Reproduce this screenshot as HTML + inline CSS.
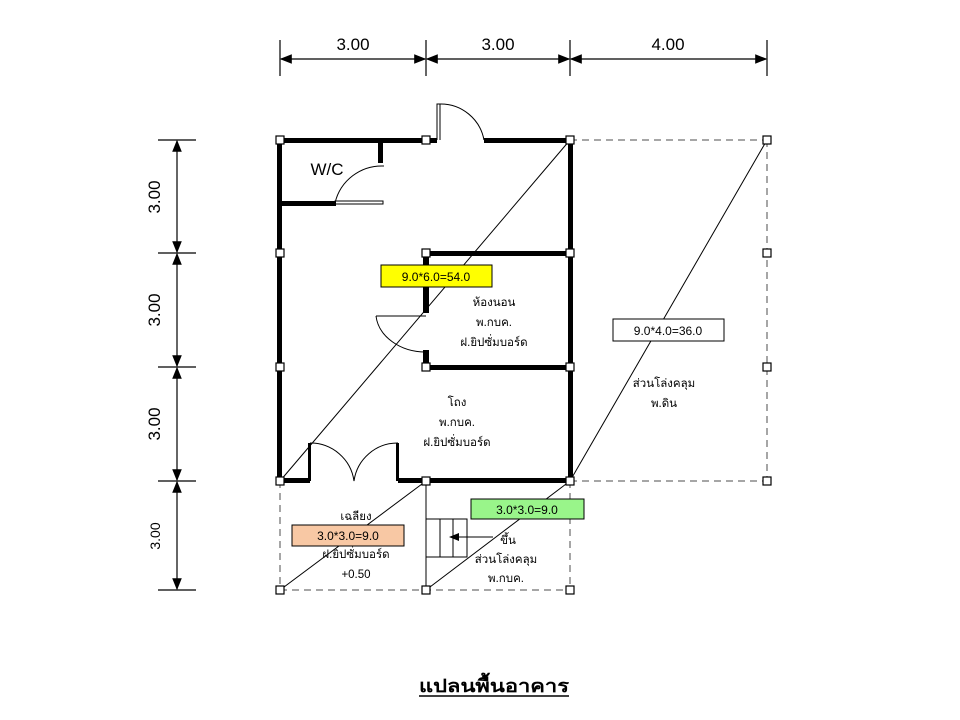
<!DOCTYPE html><html><head><meta charset="utf-8"><style>body{margin:0;background:#fff}svg{display:block}text{font-family:"Liberation Sans","Noto Sans CJK SC",sans-serif}</style></head><body>
<svg width="960" height="720" viewBox="0 0 960 720" xmlns="http://www.w3.org/2000/svg">
<defs><marker id="a" markerWidth="10" markerHeight="8" refX="9" refY="4" orient="auto-start-reverse"><path d="M0,0L10,4L0,8z" fill="#000"/></marker></defs>
<g stroke="#000" stroke-width="1.2">
<line x1="280" y1="40" x2="280" y2="76"/><line x1="426" y1="40" x2="426" y2="76"/><line x1="570" y1="40" x2="570" y2="76"/><line x1="767" y1="40" x2="767" y2="76"/>
<line x1="281" y1="59" x2="425" y2="59" marker-start="url(#a)" marker-end="url(#a)"/>
<line x1="427" y1="59" x2="569" y2="59" marker-start="url(#a)" marker-end="url(#a)"/>
<line x1="571" y1="59" x2="766" y2="59" marker-start="url(#a)" marker-end="url(#a)"/>
<line x1="158" y1="140" x2="196" y2="140"/><line x1="158" y1="253" x2="196" y2="253"/><line x1="158" y1="367" x2="196" y2="367"/><line x1="158" y1="481" x2="196" y2="481"/><line x1="158" y1="590" x2="196" y2="590"/>
<line x1="177" y1="141" x2="177" y2="252" marker-start="url(#a)" marker-end="url(#a)"/>
<line x1="177" y1="254" x2="177" y2="366" marker-start="url(#a)" marker-end="url(#a)"/>
<line x1="177" y1="368" x2="177" y2="480" marker-start="url(#a)" marker-end="url(#a)"/>
<line x1="177" y1="482" x2="177" y2="589" marker-start="url(#a)" marker-end="url(#a)"/>
</g>
<g font-size="17" text-anchor="middle">
<text x="353" y="50">3.00</text><text x="498" y="50">3.00</text><text x="668" y="50">4.00</text>
<text transform="translate(160,197) rotate(-90)">3.00</text>
<text transform="translate(160,310) rotate(-90)">3.00</text>
<text transform="translate(160,424) rotate(-90)">3.00</text>
<text transform="translate(160,536) rotate(-90)" font-size="14">3.00</text>
</g>
<g stroke="#888" stroke-width="1.5" stroke-dasharray="7,5" fill="none">
<line x1="570" y1="140" x2="767" y2="140"/><line x1="570" y1="481" x2="767" y2="481"/><line x1="767" y1="140" x2="767" y2="481"/>
<line x1="280" y1="481" x2="280" y2="590"/><line x1="280" y1="590" x2="570" y2="590"/><line x1="570" y1="481" x2="570" y2="590"/>
</g>
<g stroke="#000" stroke-width="1" fill="none">
<line x1="280" y1="481" x2="570" y2="140"/><line x1="570" y1="481" x2="767" y2="140"/>
<line x1="280" y1="590" x2="426" y2="481"/><line x1="426" y1="590" x2="570" y2="481"/>
<line x1="426" y1="481" x2="426" y2="590"/>
<rect x="426" y="519" width="41" height="38"/><line x1="440" y1="519" x2="440" y2="557"/><line x1="453" y1="519" x2="453" y2="557"/>
<line x1="493" y1="537" x2="450" y2="537" marker-end="url(#a)"/>
<path d="M437 140 V104 H440 V140"/><path d="M440 104 A44 44 0 0 1 484 140"/>
<path d="M384 166 A48 48 0 0 0 335 203"/><rect x="335" y="201" width="48" height="3"/>
<path d="M376 316 H426"/><path d="M376 316 A50 40 0 0 0 426 352"/>
<path d="M310 443 A44 44 0 0 1 354 481 A44 44 0 0 1 398 443"/>
</g>
<g fill="#000">
<rect x="277" y="138" width="160" height="5"/><rect x="484" y="138" width="88" height="5"/>
<rect x="277" y="138" width="5" height="345"/><rect x="568" y="138" width="5" height="345"/>
<rect x="277" y="478" width="33" height="5"/><rect x="398" y="478" width="175" height="5"/>
<rect x="308" y="443" width="3" height="38"/><rect x="396" y="443" width="3" height="38"/>
<rect x="378" y="140" width="5" height="23"/><rect x="280" y="201" width="56" height="5"/>
<rect x="426" y="251" width="144" height="5"/><rect x="423" y="253" width="6" height="60"/><rect x="423" y="350" width="6" height="17"/><rect x="426" y="365" width="144" height="5"/>
</g>
<g fill="#fff" stroke="#000" stroke-width="1.2">
<rect x="276" y="136" width="8" height="8"/><rect x="422" y="136" width="8" height="8"/><rect x="566" y="136" width="8" height="8"/><rect x="763" y="136" width="8" height="8"/>
<rect x="276" y="249" width="8" height="8"/><rect x="422" y="249" width="8" height="8"/><rect x="566" y="249" width="8" height="8"/><rect x="763" y="249" width="8" height="8"/>
<rect x="276" y="363" width="8" height="8"/><rect x="422" y="363" width="8" height="8"/><rect x="566" y="363" width="8" height="8"/><rect x="763" y="363" width="8" height="8"/>
<rect x="276" y="477" width="8" height="8"/><rect x="422" y="477" width="8" height="8"/><rect x="566" y="477" width="8" height="8"/><rect x="763" y="477" width="8" height="8"/>
<rect x="276" y="586" width="8" height="8"/><rect x="422" y="586" width="8" height="8"/><rect x="566" y="586" width="8" height="8"/>
</g>
<g stroke="#000" stroke-width="1">
<rect x="381" y="265" width="111" height="22" fill="#ffff00"/>
<rect x="613" y="319" width="111" height="22" fill="#fff"/>
<rect x="471" y="499" width="113" height="20" fill="#99f58a"/>
<rect x="292" y="525" width="112" height="21" fill="#f8c8a4"/>
</g>
<g font-size="12" text-anchor="middle" fill="#000">
<text x="436" y="281">9.0*6.0=54.0</text><text x="668" y="335">9.0*4.0=36.0</text>
<text x="527" y="514">3.0*3.0=9.0</text><text x="348" y="540">3.0*3.0=9.0</text>
<text x="327" y="175" font-size="17">W/C</text>
<g font-size="11.5">
<text x="494" y="306">ห้องนอน</text><text x="494" y="326">พ.กบค.</text><text x="494" y="346">ฝ.ยิปซั่มบอร์ด</text>
<text x="457" y="406">โถง</text><text x="457" y="426">พ.กบค.</text><text x="457" y="446">ฝ.ยิปซั่มบอร์ด</text>
<text x="664" y="387">ส่วนโล่งคลุม</text><text x="664" y="407">พ.ดิน</text>
<text x="356" y="520">เฉลียง</text><text x="356" y="558">ฝ.ยิปซั่มบอร์ด</text><text x="356" y="578">+0.50</text>
<text x="508" y="544">ขึ้น</text><text x="506" y="563">ส่วนโล่งคลุม</text><text x="506" y="582">พ.กบค.</text>
</g>
</g>
<text x="419" y="692" font-size="18" font-weight="bold" textLength="150" lengthAdjust="spacingAndGlyphs">แปลนพื้นอาคาร</text>
<line x1="419" y1="696" x2="569" y2="696" stroke="#000" stroke-width="1.5"/>
</svg></body></html>
